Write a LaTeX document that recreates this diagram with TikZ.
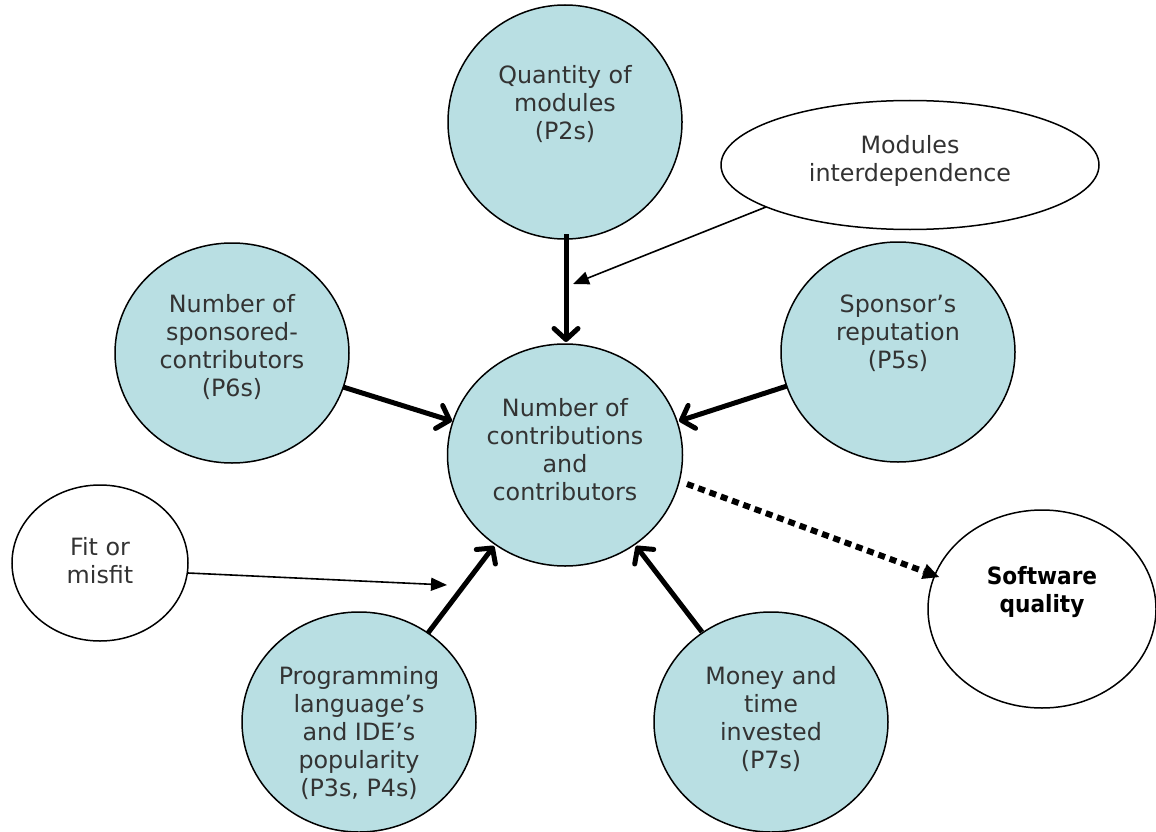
\documentclass[tikz,border=0pt]{standalone}
\usepackage{fontspec}
\setmainfont{DejaVu Sans}
\newfontfamily\sqfont[FakeStretch=0.91]{DejaVu Sans}
\usetikzlibrary{shapes.geometric,arrows.meta}
\definecolor{teal1}{HTML}{B9DFE3}
\definecolor{txt}{HTML}{333333}
\tikzset{
  bub/.style={ellipse,draw=black,line width=1.5pt,fill=teal1,inner sep=0pt},
  wbub/.style={ellipse,draw=black,line width=1.5pt,fill=white,inner sep=0pt},
  lbl/.style={align=center,text=txt,font=\fontsize{23.8}{28}\selectfont,inner sep=0pt},
  thick arrow/.style={line width=5pt,-{Straight Barb[length=11pt,width=24pt,line cap=round,line join=round]}},
  thin arrow/.style={line width=1.6pt,-{Triangle[length=16pt,width=13pt]}},
  dot arrow/.style={line width=6pt,dash pattern=on 7pt off 5pt,-{Triangle[length=16pt,width=16pt,line width=0pt]}}
}
\begin{document}
\begin{tikzpicture}[x=1pt,y=-1pt]
\useasboundingbox (0,0) rectangle (1156,832);
% shapes
\node[bub,minimum width=234pt,minimum height=234pt] (qm) at (565,122) {};
\node[wbub,minimum width=378pt,minimum height=129pt] (mi) at (910,165) {};
\node[bub,minimum width=234pt,minimum height=220pt] (sc) at (232,353) {};
\node[bub,minimum width=234pt,minimum height=220pt] (sr) at (898,352) {};
\node[bub,minimum width=235pt,minimum height=222pt] (cc) at (565,455) {};
\node[wbub,minimum width=176pt,minimum height=156pt] (fm) at (100,563) {};
\node[wbub,minimum width=228pt,minimum height=198pt] (sq) at (1042,609) {};
\node[bub,minimum width=234pt,minimum height=220pt] (pl) at (359,722) {};
\node[bub,minimum width=234pt,minimum height=220pt] (mt) at (771,722) {};
% labels
\node[lbl] (tqm) at (565,104) {Quantity of\\modules\\(P2s)};
\node[lbl] (tmi) at (910,161) {Modules\\interdependence};
\node[lbl] (tsc) at (232,347) {Number of\\sponsored-\\contributors\\(P6s)};
\node[lbl] (tsr) at (898,333) {Sponsor’s\\reputation\\(P5s)};
\node[lbl] (tcc) at (565,450) {Number of\\contributions\\and\\contributors};
\node[lbl] (tfm) at (100,561) {Fit or\\misfit};
\node[lbl,text=black,font=\fontsize{23.8}{28}\sqfont\bfseries] (tsq) at (1042,592) {Software\\quality};
\node[lbl] (tpl) at (359,733) {Programming\\language’s\\and IDE’s\\popularity\\(P3s, P4s)};
\node[lbl] (tmt) at (771,719) {Money and\\time\\invested\\(P7s)};
% connectors
\coordinate (miS) at (766,207);
\coordinate (miE) at (573,284);
\coordinate (fmS) at (188,573);
\coordinate (fmE) at (447,585);
\coordinate (qmS) at (566,234);
\coordinate (qmE) at (566,342);
\coordinate (scS) at (343,387);
\coordinate (scE) at (452,421);
\coordinate (srS) at (787,386);
\coordinate (srE) at (679,421);
\coordinate (plS) at (428,633);
\coordinate (plE) at (494,546);
\coordinate (mtS) at (702,632);
\coordinate (mtE) at (636,546);
\coordinate (ccS) at (687,484);
\coordinate (sqE) at (939,577);
\draw[thick arrow] (qmS) -- (qmE);
\draw[thick arrow] (scS) -- (scE);
\draw[thick arrow] (srS) -- (srE);
\draw[thick arrow] (plS) -- (plE);
\draw[thick arrow] (mtS) -- (mtE);
\draw[thin arrow] (miS) -- (miE);
\draw[thin arrow] (fmS) -- (fmE);
\draw[dot arrow] (ccS) -- (sqE);
\end{tikzpicture}
\end{document}
